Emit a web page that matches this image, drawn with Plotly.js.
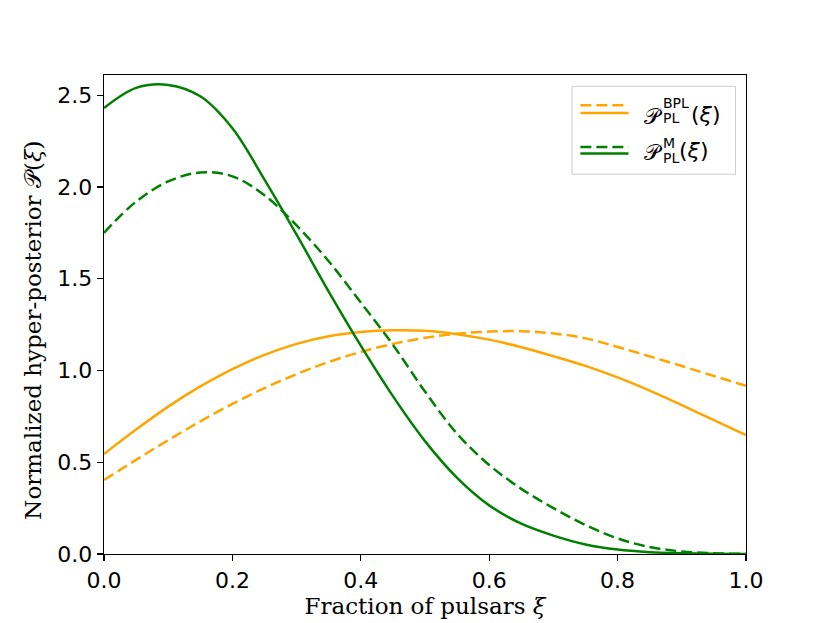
<!DOCTYPE html>
<html>
<head>
<meta charset="utf-8">
<script src="https://cdn.plot.ly/plotly-3.0.1.min.js"></script>
<style>
  html, body { margin: 0; padding: 0; background: white; }
  #hyper-graph { width: 830px; height: 623px; }
</style>
</head>
<body>
<div id="hyper-graph"></div>
<script>
// fraction of pulsars xi
const xi = [0, 0.05, 0.10, 0.15, 0.20, 0.25, 0.30, 0.35, 0.40, 0.45, 0.50,
            0.55, 0.60, 0.65, 0.70, 0.75, 0.80, 0.85, 0.90, 0.95, 1.0];
// orange = BPL, green = M ; solid and dashed variants
const bplSolid = [0.545, 0.678, 0.803, 0.913, 1.008, 1.085, 1.145, 1.187, 1.210, 1.219, 1.216,
                  1.198, 1.168, 1.127, 1.078, 1.025, 0.962, 0.890, 0.811, 0.729, 0.648];
const bplDashed = [0.403, 0.513, 0.620, 0.723, 0.818, 0.904, 0.980, 1.046, 1.101, 1.145, 1.178,
                   1.200, 1.212, 1.214, 1.202, 1.175, 1.128, 1.077, 1.024, 0.970, 0.916];
const mSolid = [2.430, 2.540, 2.556, 2.494, 2.320, 2.040, 1.740, 1.430, 1.135, 0.860, 0.615,
                0.415, 0.265, 0.165, 0.100, 0.052, 0.024, 0.010, 0.004, 0.001, 0.0];
const mDashed = [1.750, 1.920, 2.030, 2.079, 2.058, 1.955, 1.790, 1.595, 1.370, 1.140, 0.885,
                 0.655, 0.485, 0.355, 0.250, 0.158, 0.085, 0.038, 0.014, 0.004, 0.001];
const xTicks = [0, 0.2, 0.4, 0.6, 0.8, 1.0];
const yTicks = [0, 0.5, 1.0, 1.5, 2.0, 2.5];

const orange = 'orange';
const green = 'green';
const dashPat = '11px,5px';
const serif = 'DejaVu Serif, serif';
const sans = 'DejaVu Sans, sans-serif';

function curve(y, colore, dashed) {
    return {
        x: xi,
        y: y,
        mode: 'lines',
        line: {color: colore, width: 2.5, dash: dashed ? dashPat : 'solid', shape: 'spline'},
        showlegend: false,
        hoverinfo: 'skip'
    };
}

const data = [
    curve(bplDashed, orange, true),
    curve(bplSolid, orange, false),
    curve(mDashed, green, true),
    curve(mSolid, green, false)
];

// hand-made legend: each entry shows a dashed line over a solid one
function legLine(y, colore, dashed) {
    return {type: 'line', xref: 'paper', yref: 'paper', x0: 0.742, x1: 0.817, y0: y, y1: y,
            line: {color: colore, width: 2.5, dash: dashed ? dashPat : 'solid'}};
}
function txt(s, x, y, size) {
    return {text: s, xref: 'paper', yref: 'paper', x: x, y: y, xanchor: 'left', yanchor: 'middle',
            showarrow: false, borderpad: 0, font: {family: sans, size: size, color: 'black'}};
}

const shapes = [
    {type: 'rect', xref: 'paper', yref: 'paper', x0: 0.729, x1: 0.9837, y0: 0.7928, y1: 0.9764,
     line: {color: '#cccccc', width: 1}, fillcolor: 'rgba(255,255,255,0.8)'},
    legLine(0.9368, orange, true),
    legLine(0.9207, orange, false),
    legLine(0.8498, green, true),
    legLine(0.8360, green, false)
];

const annotations = [
    txt('𝒫', 0.8403, 0.9128, 22),
    txt('BPL', 0.8699, 0.941, 14),
    txt('PL', 0.8699, 0.9097, 14),
    txt('(<i>ξ</i>)', 0.9120, 0.917, 22),
    txt('𝒫', 0.8403, 0.8377, 22),
    txt('M', 0.8699, 0.8575, 14),
    txt('PL', 0.8699, 0.8272, 14),
    txt('(<i>ξ</i>)', 0.8940, 0.8429, 22),
    // y axis title, placed as in the reference
    {text: 'Normalized hyper-posterior 𝒫(<i>ξ</i>)', xref: 'paper', yref: 'paper',
     x: -0.110, y: 0.467, xanchor: 'center', yanchor: 'middle', textangle: -90,
     showarrow: false, font: {family: serif, size: 23, color: 'black'}}
];

const axisCommon = {
    showline: true,
    mirror: true,
    linecolor: 'black',
    linewidth: 1.3,
    ticks: 'outside',
    ticklen: 6,
    tickwidth: 1.3,
    tickcolor: 'black',
    showgrid: false,
    zeroline: false,
    tickfont: {family: sans, size: 22, color: 'black'},
    tickformat: '.1f'
};

const layout = {
    width: 830,
    height: 623,
    margin: {l: 104, r: 84, t: 75, b: 69},
    paper_bgcolor: 'white',
    plot_bgcolor: 'white',
    showlegend: false,
    xaxis: Object.assign({}, axisCommon, {
        range: [0, 1],
        tickvals: xTicks,
        title: {text: 'Fraction of pulsars <i>ξ</i>', font: {family: serif, size: 23, color: 'black'}, standoff: 4}
    }),
    yaxis: Object.assign({}, axisCommon, {
        range: [0, 2.61],
        tickvals: yTicks
    }),
    shapes: shapes,
    annotations: annotations
};

const config = {
    displayModeBar: false,
    staticPlot: true
};

Plotly.newPlot('hyper-graph', data, layout, config);
</script>
</body>
</html>
